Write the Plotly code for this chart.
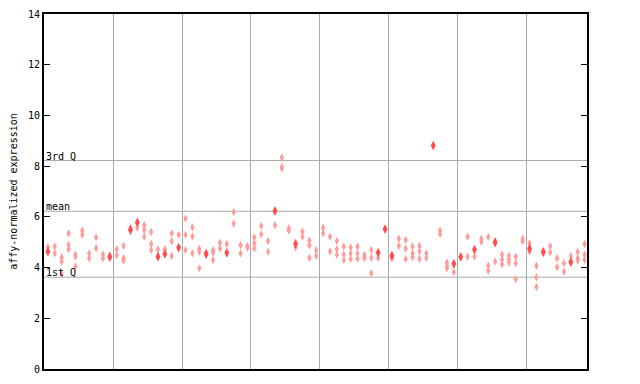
import plotly.graph_objects as go

# Per-sample expression values (column index = sample position along x)
light_values = [
    [4.80], [4.83, 4.56], [4.41, 4.24, 3.74], [5.35, 4.89, 4.72], [4.51, 4.43, 4.04],
    [5.46, 5.29], [4.56, 4.37], [5.19, 4.76], [4.52, 4.37], [4.37],
    [4.72, 4.49], [4.85, 4.37, 4.28], [5.57], [5.57], [5.67, 5.48, 5.22],
    [5.40, 4.93, 4.69], [4.72], [4.72], [5.35, 5.04, 4.46], [5.29],
    [5.94, 5.29, 4.69], [5.59, 5.23, 4.56], [4.74, 4.62, 3.97], [4.60], [4.69, 4.59, 4.30],
    [4.98, 4.75], [4.93], [6.19, 5.74], [4.88, 4.56], [4.85, 4.78],
    [5.19, 4.96, 4.76], [5.64, 5.31], [5.05, 4.62], [5.67], [8.34, 7.97, 7.91],
    [5.55, 5.46], [4.80], [5.42, 5.22], [5.07, 4.88, 4.39], [4.69, 4.46],
    [5.57, 5.35], [5.22, 4.64], [5.05, 4.72, 4.51], [4.83, 4.52, 4.30], [4.79, 4.56, 4.34],
    [4.83, 4.56, 4.35], [4.50, 4.43, 4.37], [4.69, 4.39, 3.78], [4.38], [],
    [4.37], [5.14, 4.85], [5.09, 4.75, 4.34], [4.83, 4.56, 4.41], [4.85, 4.64, 4.34],
    [4.56, 4.39], [], [5.46, 5.32], [4.20, 4.07, 3.97], [3.82],
    [], [5.22, 4.43], [4.43], [5.14, 5.02], [5.21, 4.07, 3.87],
    [5.06, 4.24], [4.52, 4.33, 4.13], [4.47, 4.33, 4.20], [4.43, 4.17, 3.54], [5.14, 5.04],
    [4.96, 4.63], [4.07, 3.62, 3.23], [4.56], [4.85, 4.60], [4.37, 4.01],
    [4.17, 3.84], [4.45], [4.62, 4.37, 4.28], [4.93, 4.51, 4.30],
]
solid_samples = [0, 9, 12, 13, 16, 17, 19, 23, 26, 33, 36, 48, 49, 50, 56, 59, 60, 62, 65, 70, 72, 76]
solid_values = [4.63, 4.44, 5.48, 5.78, 4.43, 4.54, 4.79, 4.53, 4.58, 6.23, 4.94, 4.59, 5.52, 4.47,
                8.81, 4.15, 4.42, 4.71, 4.98, 4.75, 4.62, 4.22]

quantile_names = ["3rd Q", "mean", "1st Q"]
quantile_values = [8.22, 6.22, 3.62]
group_boundaries = [9.5, 19.5, 29.5, 39.5, 49.5, 59.5, 69.5]
y_ticks = [0, 2, 4, 6, 8, 10, 12, 14]

lx, ly = [], []
for i, vals in enumerate(light_values):
    for v in vals:
        lx.append(i)
        ly.append(v)

fig = go.Figure()
fig.add_trace(go.Scatter(
    x=lx, y=ly, mode="markers",
    marker=dict(symbol="diamond-tall", size=6, color="#ff9c9c", line=dict(width=0)),
    showlegend=False))
fig.add_trace(go.Scatter(
    x=solid_samples, y=solid_values, mode="markers",
    marker=dict(symbol="diamond-tall", size=7, color="#ff4c4c", line=dict(width=0)),
    showlegend=False))

for name, q in zip(quantile_names, quantile_values):
    fig.add_shape(type="line", xref="paper", x0=0, x1=1, yref="y", y0=q, y1=q,
                  line=dict(color="#aaaaaa", width=1), layer="below")
    fig.add_annotation(xref="paper", x=0, yref="y", y=q, text=name, showarrow=False,
                       xanchor="left", yanchor="bottom", yshift=-3,
                       font=dict(family="DejaVu Sans Mono", size=10, color="black"))

mono = dict(family="DejaVu Sans Mono", size=10, color="black")
# page body adds an 8px offset, so margins are shifted to keep the plot box in place
fig.update_layout(
    width=640, height=384,
    margin=dict(l=36, r=61, t=6, b=23),
    paper_bgcolor="white", plot_bgcolor="white",
    font=mono, hovermode=False,
    xaxis=dict(range=[-0.57, 78.35], tickvals=group_boundaries, showticklabels=False,
               ticks="", showgrid=True, gridcolor="#aaaaaa", gridwidth=1, zeroline=False,
               showline=True, linecolor="black", linewidth=2, mirror=True, automargin=False),
    yaxis=dict(range=[0, 14], tickvals=y_ticks, ticks="inside", ticklen=6, tickcolor="black",
               showgrid=False, zeroline=False, showline=True, linecolor="black", linewidth=2,
               mirror="ticks", tickfont=mono, automargin=False,
               title=dict(text="affy-normalized expression", font=mono, standoff=14)),
)
fig.write_html("out.html", config={"displayModeBar": False})
